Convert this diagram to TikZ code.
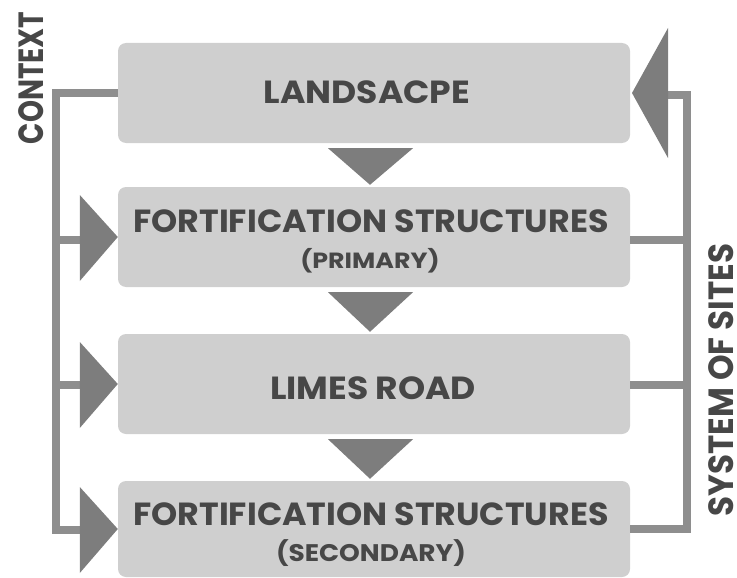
\documentclass[tikz,border=0pt]{standalone}
\usepackage{fontspec}
\setmainfont{Poppins}
\usetikzlibrary{calc}
\definecolor{boxgray}{HTML}{CFCFCF}
\definecolor{txtgray}{HTML}{474747}
\definecolor{linegray}{HTML}{8E8E8E}
\definecolor{trigray}{HTML}{7D7D7D}
\tikzset{
  box/.style={rounded corners=8pt, fill=boxgray, minimum width=512pt, inner sep=0pt},
  main/.style={text=txtgray, font=\bfseries\fontsize{32}{33}\selectfont, inner sep=0pt, anchor=base},
  side/.style={text=txtgray, inner sep=0pt, rotate=90, anchor=base},
  conn/.style={draw=linegray, line width=8pt},
  tri/.style={fill=trigray},
}
\begin{document}
\begin{tikzpicture}[x=1pt,y=-1pt]
\useasboundingbox (0,0) rectangle (737,578);
% boxes
\node[box, minimum height=100pt] (b1) at (374,93) {};
\node[box, minimum height=100pt] (b2) at (374,237) {};
\node[box, minimum height=100pt] (b3) at (374,384) {};
\node[box, minimum height=96pt] (b4) at (374,529) {};
% texts
\node[main] (t1) at (367,103) {\scalebox{1.08}[1]{LANDSACPE}};
\node[main] (t2) at (371,232) {\scalebox{1.04}[1]{FORTIFICATION STRUCTURES}};
\node[main, font=\bfseries\fontsize{22}{23}\selectfont] (s2) at (370,268) {\scalebox{1.15}[1]{(PRIMARY)}};
\node[main] (t3) at (373,399) {\scalebox{1.08}[1]{LIMES ROAD}};
\node[main] (t4) at (371,525) {\scalebox{1.04}[1]{FORTIFICATION STRUCTURES}};
\node[main, font=\bfseries\fontsize{24}{25}\selectfont] (s4) at (371,561) {\scalebox{1.1}[1]{(SECONDARY)}};
\node[side, font=\bfseries\fontsize{35}{36}\selectfont] (ctx) at (43,78) {\scalebox{0.8}[1]{CONTEXT}};
\node[side, font=\bfseries\fontsize{35}{36}\selectfont] (sos) at (733,380) {\scalebox{0.93}[1]{SYSTEM OF SITES}};
% left connectors
\coordinate (cl4) at (56,530);
\coordinate (lb2) at (80,240);
\coordinate (lb3) at (80,385);
\coordinate (lb4) at (80,530);
\draw[conn] (b1.west) -| (cl4) -- (lb4);
\draw[conn] (cl4 |- lb2) -- (lb2);
\draw[conn] (cl4 |- lb3) -- (lb3);
% left triangles
\fill[tri] ($(b2.west)+(-38,-42)$) -- (b2.west) -- ($(b2.west)+(-38,44)$) -- cycle;
\fill[tri] ($(b3.west)+(-38,-42)$) -- (b3.west) -- ($(b3.west)+(-38,44)$) -- cycle;
\fill[tri] ($(b4.west)+(-38,-42)$) -- (b4.west) -- ($(b4.west)+(-38,44)$) -- cycle;
% down triangles
\fill[tri] ($(b1.south)+(-46,5)$) -- ($(b2.north)+(-4,-2)$) -- ($(b1.south)+(39,5)$) -- cycle;
\fill[tri] ($(b2.south)+(-46,5)$) -- ($(b3.north)+(-4,-2)$) -- ($(b2.south)+(39,5)$) -- cycle;
\fill[tri] ($(b3.south)+(-46,5)$) -- ($(b4.north)+(-4,-2)$) -- ($(b3.south)+(39,5)$) -- cycle;
% right connectors
\coordinate (rb1) at (668,95);
\coordinate (cr4) at (687,529);
\draw[conn] (rb1) -| (cr4) -- (b4.east);
\draw[conn] (b2.east |- 0,240) -- (cr4 |- 0,240);
\draw[conn] (b3.east |- 0,385) -- (cr4 |- 0,385);
% right triangle
\fill[tri] (668,28) -- (632,93) -- (668,158) -- cycle;
\end{tikzpicture}
\end{document}
